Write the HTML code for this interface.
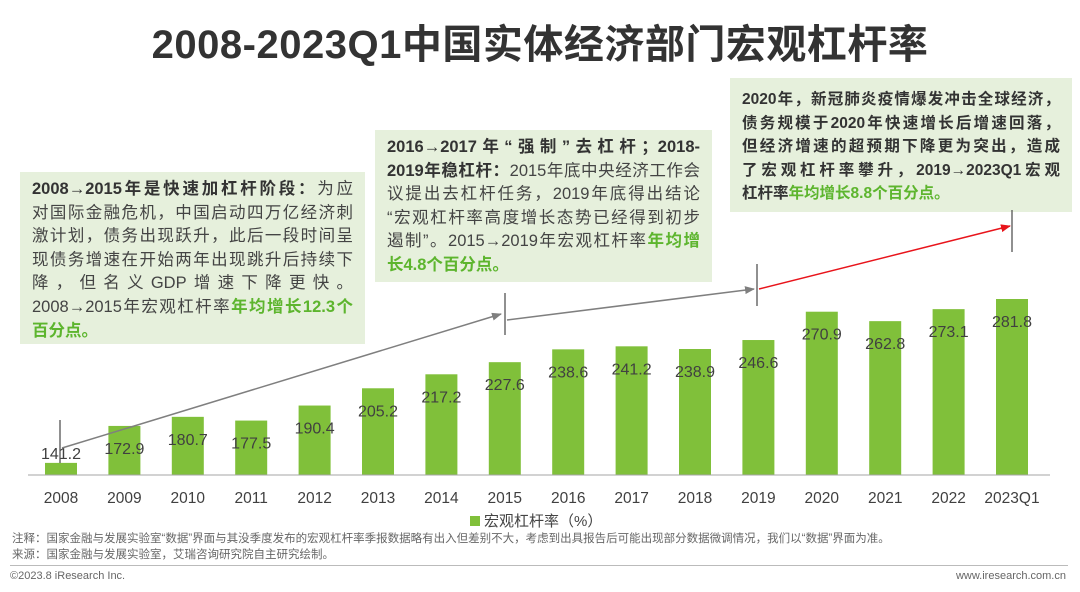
<!DOCTYPE html>
<html><head><meta charset="utf-8">
<style>
body{margin:0;background:#fff;}
#root{position:relative;width:1080px;height:592px;overflow:hidden;font-family:"Liberation Sans","Noto Sans CJK SC",sans-serif;color:#333;}
.title{position:absolute;left:0;width:1080px;top:12px;text-align:center;font-size:40px;font-weight:bold;color:#333;letter-spacing:0.5px;}
.box{position:absolute;background:#e6f0dc;color:#444;padding:6px 12px;box-sizing:border-box;}
.box div{white-space:nowrap;text-align:justify;text-align-last:justify;overflow:hidden;}
.box div.last{text-align-last:left;}
.box b{color:#333}
.box .g{color:#5db52e;font-weight:bold}
.note{position:absolute;left:12px;font-size:11.5px;color:#666;}
.foot{position:absolute;top:570px;font-size:11px;color:#666;}
</style></head>
<body>
<div id="root">
<div class="title">2008-2023Q1中国实体经济部门宏观杠杆率</div>

<div class="box" style="left:20px;top:172px;width:345px;height:172px;font-size:16.5px;line-height:23.6px;">
<div><b>2008→2015年是快速加杠杆阶段：</b>为应</div>
<div>对国际金融危机，中国启动四万亿经济刺</div>
<div>激计划，债务出现跃升，此后一段时间呈</div>
<div>现债务增速在开始两年出现跳升后持续下</div>
<div>降，但名义GDP增速下降更快。</div>
<div>2008→2015年宏观杠杆率<span class="g">年均增长12.3个</span></div>
<div class="last"><span class="g">百分点。</span></div>
</div>

<div class="box" style="left:375px;top:130px;width:337px;height:152px;font-size:16.5px;line-height:23.6px;">
<div><b>2016→2017年“强制”去杠杆；2018-</b></div>
<div><b>2019年稳杠杆：</b>2015年底中央经济工作会</div>
<div>议提出去杠杆任务，2019年底得出结论</div>
<div>“宏观杠杆率高度增长态势已经得到初步</div>
<div>遏制”。2015→2019年宏观杠杆率<span class="g">年均增</span></div>
<div class="last"><span class="g">长4.8个百分点。</span></div>
</div>

<div class="box" style="left:730px;top:78px;width:342px;height:134px;font-size:15.5px;line-height:23.6px;padding-top:10px;">
<div><b>2020年，新冠肺炎疫情爆发冲击全球经济，</b></div>
<div><b>债务规模于2020年快速增长后增速回落，</b></div>
<div><b>但经济增速的超预期下降更为突出，造成</b></div>
<div><b>了宏观杠杆率攀升，2019→2023Q1宏观</b></div>
<div class="last"><b>杠杆率<span class="g">年均增长8.8个百分点。</span></b></div>
</div>

<svg id="chart" width="1080" height="592" style="position:absolute;left:0;top:0">
<defs>
<marker id="ag" markerWidth="10" markerHeight="8" refX="9" refY="4" orient="auto" markerUnits="userSpaceOnUse"><path d="M0,0L10,4L0,8z" fill="#7f7f7f"/></marker>
<marker id="ar" markerWidth="10" markerHeight="8" refX="9" refY="4" orient="auto" markerUnits="userSpaceOnUse"><path d="M0,0L10,4L0,8z" fill="#e8141b"/></marker>
</defs>
<g id="bars"></g>
<line x1="28" y1="475" x2="1050" y2="475" stroke="#a6a6a6" stroke-width="1"/>
<g>
<line x1="60" y1="420" x2="60" y2="463" stroke="#555" stroke-width="1.3"/>
<line x1="62" y1="448" x2="501" y2="314" stroke="#7f7f7f" stroke-width="1.5" marker-end="url(#ag)"/>
<line x1="505" y1="293" x2="505" y2="335" stroke="#555" stroke-width="1.3"/>
<line x1="507" y1="320" x2="754" y2="289" stroke="#7f7f7f" stroke-width="1.5" marker-end="url(#ag)"/>
<line x1="757" y1="264" x2="757" y2="306" stroke="#555" stroke-width="1.3"/>
<line x1="759" y1="289" x2="1010" y2="226" stroke="#e8141b" stroke-width="1.5" marker-end="url(#ar)"/>
<line x1="1012" y1="210" x2="1012" y2="252" stroke="#555" stroke-width="1.3"/>
</g>
<rect x="470" y="516" width="10" height="10" fill="#80c03a"/>
<text x="484" y="526" font-size="15" fill="#444">宏观杠杆率（%）</text>
</svg>

<div class="note" style="top:530px">注释：国家金融与发展实验室“数据”界面与其没季度发布的宏观杠杆率季报数据略有出入但差别不大，考虑到出具报告后可能出现部分数据微调情况，我们以“数据”界面为准。</div>
<div class="note" style="top:546px">来源：国家金融与发展实验室，艾瑞咨询研究院自主研究绘制。</div>
<div style="position:absolute;left:10px;top:565px;width:1058px;border-top:1px solid #bbb"></div>
<div class="foot" style="left:10px">©2023.8 iResearch Inc.</div>
<div class="foot" style="right:14px">www.iresearch.com.cn</div>
</div>
<script>
const categories=["2008","2009","2010","2011","2012","2013","2014","2015","2016","2017","2018","2019","2020","2021","2022","2023Q1"];
const values=[141.2,172.9,180.7,177.5,190.4,205.2,217.2,227.6,238.6,241.2,238.9,246.6,270.9,262.8,273.1,281.8];
const labels=["141.2","172.9","180.7","177.5","190.4","205.2","217.2","227.6","238.6","241.2","238.9","246.6","270.9","262.8","273.1","281.8"];
const yMin=130.8,yMax=281.8,baseY=475,topY=299;
const x0=61,step=63.4,bw=32;
function xScale(i){return x0+i*step;}
function yScale(v){return baseY-(v-yMin)/(yMax-yMin)*(baseY-topY);}
const g=document.getElementById('bars');
const NS="http://www.w3.org/2000/svg";
categories.forEach((c,i)=>{
  const cx=xScale(i),y=yScale(values[i]);
  const r=document.createElementNS(NS,'rect');
  r.setAttribute('x',cx-bw/2);r.setAttribute('y',y);r.setAttribute('width',bw);r.setAttribute('height',baseY-y);r.setAttribute('fill','#80c03a');
  
  
  g.appendChild(r);
  const t=document.createElementNS(NS,'text');
  const ly=(baseY-y)<30?y-4:y+28;
  t.setAttribute('x',cx);t.setAttribute('y',ly);t.setAttribute('text-anchor','middle');t.setAttribute('font-size','16');t.setAttribute('fill','#404040');
  t.textContent=labels[i];
  
  
  g.appendChild(t);
  const a=document.createElementNS(NS,'text');
  a.setAttribute('x',cx);a.setAttribute('y',503);a.setAttribute('text-anchor','middle');a.setAttribute('font-size','15.5');a.setAttribute('fill','#404040');
  a.textContent=c;
  
  
  g.appendChild(a);
});
</script>
</body></html>
